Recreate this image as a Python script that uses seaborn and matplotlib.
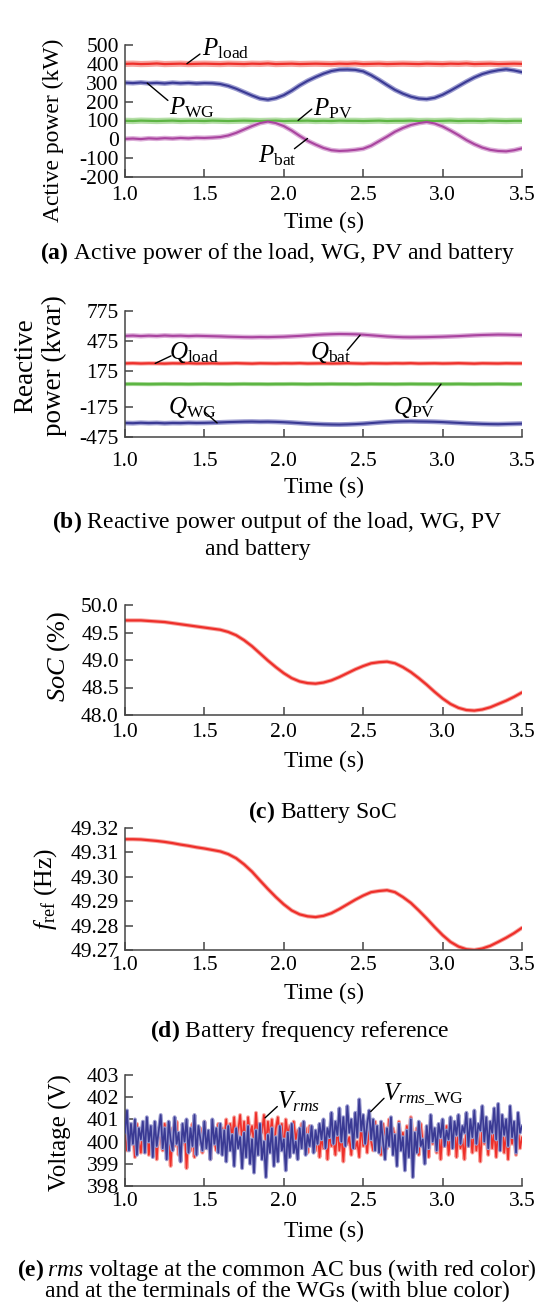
import numpy as np
import pandas as pd
import matplotlib
matplotlib.use("Agg")
import matplotlib.pyplot as plt
import seaborn as sns

# ---------------- data ----------------
t_coarse = np.round(np.linspace(1.0, 3.5, 51), 4)   # 0.05 s step
t_fine = np.round(np.linspace(1.0, 3.5, 201), 4)    # 0.0125 s step

x_ticks = [1.0, 1.5, 2.0, 2.5, 3.0, 3.5]
x_tick_labels = ["1.0", "1.5", "2.0", "2.5", "3.0", "3.5"]

# (a) active power (kW)
p_load = [400, 401, 399, 400, 402, 399, 400, 401, 399, 400,
          401, 400, 399, 401, 400, 399, 401, 400, 402, 399,
          400, 401, 399, 400, 401, 400, 399, 401, 400, 402,
          399, 400, 401, 399, 400, 401, 400, 399, 401, 400,
          399, 401, 400, 402, 399, 400, 401, 399, 400, 401,
          400]
p_wg = [300, 298, 301, 297, 299, 296, 300, 297, 299, 296,
        298, 297, 293, 283, 268, 250, 232, 216, 210, 218,
        234, 258, 286, 310, 330, 348, 362, 369, 370, 368,
        360, 340, 315, 288, 262, 242, 226, 216, 213, 220,
        236, 258, 282, 306, 328, 346, 358, 366, 371, 365,
        356]
p_pv = [98, 97, 99, 98, 97, 98, 99, 97, 98, 98,
        97, 99, 98, 97, 98, 99, 98, 97, 98, 99,
        97, 98, 98, 99, 97, 98, 97, 99, 98, 98,
        97, 98, 99, 97, 98, 98, 99, 97, 98, 97,
        98, 99, 97, 98, 98, 97, 99, 98, 97, 98,
        98]
p_bat = [2, 4, 1, 5, 3, 6, 4, 7, 5, 8,
         7, 9, 12, 20, 34, 52, 70, 86, 94, 86,
         70, 46, 18, -8, -28, -46, -58, -62, -60, -56,
         -50, -34, -10, 14, 40, 60, 76, 86, 92, 84,
         68, 46, 22, -4, -26, -44, -56, -62, -64, -58,
         -48]
a_yticks = [500, 400, 300, 200, 100, 0, -100, -200]

# (b) reactive power (kvar)
q_bat = [528, 531, 526, 530, 527, 532, 528, 530, 526, 529,
         527, 525, 523, 520, 518, 516, 515, 517, 516, 518,
         520, 524, 528, 533, 538, 542, 545, 547, 546, 544,
         540, 534, 528, 522, 518, 515, 514, 515, 516, 518,
         520, 523, 526, 530, 534, 537, 539, 541, 540, 538,
         536]
q_load = [255, 257, 254, 256, 255, 253, 256, 255, 257, 254,
          255, 256, 254, 255, 257, 255, 253, 256, 255, 254,
          256, 255, 257, 254, 255, 256, 254, 255, 257, 255,
          253, 256, 255, 254, 256, 255, 257, 254, 255, 256,
          254, 255, 257, 255, 253, 256, 255, 254, 256, 255,
          255]
q_pv = [50, 51, 50, 49, 50, 51, 50, 50, 49, 50,
        51, 50, 50, 49, 50, 51, 50, 50, 49, 50,
        50, 51, 50, 49, 50, 50, 51, 50, 50, 49,
        50, 51, 50, 50, 49, 50, 51, 50, 50, 49,
        50, 50, 51, 50, 49, 50, 50, 51, 50, 49,
        50]
q_wg = [-336, -338, -334, -337, -335, -339, -336, -337, -334, -336,
        -335, -333, -330, -327, -325, -323, -322, -324, -323, -325,
        -328, -332, -337, -342, -346, -349, -351, -352, -350, -347,
        -343, -337, -331, -326, -322, -320, -319, -321, -322, -324,
        -327, -331, -335, -339, -342, -345, -347, -348, -346, -344,
        -342]
b_yticks = [775, 475, 175, -175, -475]

# (c) battery SoC (%)
soc = [49.72, 49.72, 49.72, 49.71, 49.70, 49.69, 49.67, 49.65, 49.63, 49.61,
       49.59, 49.57, 49.55, 49.51, 49.45, 49.36, 49.25, 49.12, 48.99, 48.87,
       48.76, 48.67, 48.61, 48.58, 48.57, 48.59, 48.63, 48.69, 48.76, 48.83,
       48.89, 48.94, 48.96, 48.97, 48.94, 48.87, 48.78, 48.67, 48.55, 48.42,
       48.30, 48.20, 48.13, 48.09, 48.08, 48.10, 48.14, 48.20, 48.26, 48.33,
       48.41]
c_yticks = [50.0, 49.5, 49.0, 48.5, 48.0]

# (d) battery frequency reference (Hz)
f_ref = [49.3154, 49.3154, 49.3153, 49.3150, 49.3147, 49.3143, 49.3138, 49.3132, 49.3127, 49.3121,
         49.3116, 49.3110, 49.3104, 49.3093, 49.3076, 49.3051, 49.3021, 49.2985, 49.2950, 49.2917,
         49.2887, 49.2862, 49.2846, 49.2838, 49.2835, 49.2840, 49.2851, 49.2868, 49.2887, 49.2906,
         49.2923, 49.2937, 49.2942, 49.2945, 49.2937, 49.2917, 49.2893, 49.2862, 49.2829, 49.2794,
         49.2761, 49.2733, 49.2714, 49.2703, 49.2700, 49.2706, 49.2717, 49.2733, 49.2750, 49.2769,
         49.2791]
d_yticks = [49.32, 49.31, 49.30, 49.29, 49.28, 49.27]

# (e) rms voltages (V)
v_rms = [400.3, 399.6, 400.7, 399.9, 400.5, 399.3, 400.8, 400.0, 399.5, 400.6,
         399.8, 400.9, 399.4, 400.4, 399.9, 400.7, 399.2, 400.5, 400.1, 399.6,
         400.8, 399.7, 400.3, 398.9, 400.6, 399.8, 400.9, 399.4, 400.2, 399.9,
         400.7, 398.8, 400.4, 399.6, 400.8, 399.3, 400.5, 399.9, 400.6, 399.5,
         400.9, 399.7, 400.3, 399.2, 400.7, 400.0, 399.6, 400.8,
         399.9, 400.6, 400.1, 401.0, 399.7, 400.8, 400.2, 401.1, 399.8, 400.5,
         401.2, 400.0, 400.9, 399.6, 401.1, 400.3, 400.7, 399.9, 401.3, 400.1,
         400.8, 400.4, 401.2, 399.8, 400.9, 400.2, 401.0, 399.7, 400.6, 401.1,
         400.0, 400.8, 399.6, 401.0, 400.3, 400.7, 399.8, 400.9, 400.1, 400.5,
         399.7, 400.8, 400.0, 400.6, 399.5, 400.7, 399.9, 400.4, 399.6,
         400.5, 399.3, 400.2, 399.7, 400.6, 399.2, 400.4, 399.8, 400.1, 399.4,
         400.7, 399.6, 400.3, 399.1, 400.5, 399.9, 400.2, 399.4, 400.6, 399.7,
         400.0, 399.3, 400.8, 399.8, 400.4, 399.5, 400.7, 400.0, 399.6, 400.9,
         399.9, 400.5, 399.4, 400.8, 400.1, 399.7, 401.0, 399.8, 400.6, 400.2,
         399.5, 400.9, 400.0, 400.4, 399.6, 400.7, 399.9, 401.1, 400.2, 399.7,
         400.6, 399.4, 400.8, 400.0, 399.8, 400.5, 399.3, 400.7, 399.9, 400.3,
         399.5, 400.6, 399.2, 400.4, 399.8, 400.7, 399.4, 400.2, 399.9, 400.8,
         399.3, 400.5, 399.7, 400.1, 399.2, 400.6, 399.8, 400.3, 399.5, 400.9,
         399.6, 400.4, 399.1, 400.7, 399.9, 400.2, 399.4, 400.8, 399.7, 400.5,
         399.3, 400.6, 399.8, 401.0, 399.5, 400.3, 399.2, 400.7, 399.9, 400.4,
         399.4, 400.6, 399.7, 400.2]
v_rms_wg = [400.4, 401.4, 399.6, 400.8, 399.9, 401.0, 399.4, 400.6, 400.1, 400.9,
            399.5, 401.1, 400.0, 400.7, 399.3, 400.9, 399.8, 400.5, 401.2, 399.7,
            400.6, 399.2, 400.9, 400.1, 399.6, 401.1, 399.9, 400.4, 399.1, 400.8,
            400.0, 401.0, 399.5, 400.6, 399.8, 401.2, 399.4, 400.7, 400.1, 399.6,
            400.9, 399.7, 400.5, 399.2, 401.0, 399.9, 400.6, 399.5,
            400.8, 399.4, 400.5, 399.1, 400.7, 399.6, 400.3, 398.9, 400.6, 399.7,
            400.2, 398.8, 400.4, 399.3, 400.7, 399.0, 400.1, 398.6, 400.5, 399.4,
            400.8, 399.2, 400.0, 398.4, 400.3, 399.5, 400.6, 398.9, 400.2, 399.1,
            400.7, 399.6, 400.1, 398.7, 400.4, 399.3, 400.8, 399.5, 400.0, 399.2,
            400.6, 399.7, 400.9, 399.4, 400.3, 399.8, 400.7, 399.5, 400.5,
            399.9, 400.8, 400.1, 401.0, 399.7, 400.6, 400.2, 401.3, 399.9, 400.9,
            400.3, 401.5, 400.0, 401.1, 399.8, 401.6, 400.4, 401.0, 399.7, 401.3,
            400.2, 401.9, 400.5, 401.2, 399.9, 400.8, 401.4, 400.1, 401.0, 399.6,
            400.7, 399.5, 400.9, 400.0, 399.2, 400.6, 399.8, 401.1, 399.4, 400.3,
            398.9, 400.8, 399.6, 400.2, 398.7, 400.5, 399.3, 401.0, 398.4, 400.4,
            399.5, 400.9, 399.8, 400.1, 399.0, 400.7, 399.7, 401.2, 400.0, 400.6,
            399.6, 400.8, 400.2, 401.0, 399.8, 400.5, 400.1, 401.1, 399.7, 400.9,
            400.3, 401.2, 399.9, 400.7, 400.4, 401.3, 399.8, 401.0, 400.2, 401.4,
            399.9, 400.8, 400.5, 401.6, 400.0, 401.1, 399.7, 400.9, 400.4, 401.5,
            400.1, 401.7, 399.6, 401.2, 400.3, 401.0, 399.8, 401.6, 400.2, 400.9,
            399.5, 401.3, 400.4, 400.7]
e_yticks = [403, 402, 401, 400, 399, 398]

# ---------------- style ----------------
sns.set_theme(style="ticks")
plt.rcParams.update({
    "font.family": ["Liberation Serif", "DejaVu Serif"],
    "mathtext.fontset": "custom",
    "mathtext.rm": "Liberation Serif",
    "mathtext.it": "Liberation Serif:italic",
    "mathtext.bf": "Liberation Serif:bold",
    "axes.unicode_minus": False,
    "axes.edgecolor": "#454545",
    "axes.linewidth": 1.1,
    "text.color": "black",
    "axes.labelcolor": "black",
    "xtick.labelcolor": "black",
    "ytick.labelcolor": "black",
})

RED = "#ee2f2a"
RED_HALO = "#f7a5a0"
BLUE = "#3a3a94"
BLUE_HALO = "#9c9cd0"
GREEN = "#5db543"
GREEN_HALO = "#b4dea6"
MAG = "#a9449f"
MAG_HALO = "#dcaed8"

W, H = 540, 1307
fig = plt.figure(figsize=(W / 100, H / 100), dpi=100)
L, R = 125, 522


def px_axes(top, bottom):
    return fig.add_axes([L / W, 1 - bottom / H, (R - L) / W, (bottom - top) / H])


def draw(ax, x, y, color, lw, halo=None, halo_lw=None, z=2):
    df = pd.DataFrame({"t": x, "v": y})
    if halo is not None:
        sns.lineplot(data=df, x="t", y="v", ax=ax, color=halo, linewidth=halo_lw,
                     estimator=None, sort=False, zorder=z - 0.5)
    sns.lineplot(data=df, x="t", y="v", ax=ax, color=color, linewidth=lw,
                 estimator=None, sort=False, zorder=z)


def style(ax, top, bottom, ylim, yticks, ylabels, xpad, ylabel, ysize, ylab_px, xlab_py):
    ax.set_xlim(1.0, 3.5)
    ax.set_ylim(*ylim)
    ax.set_xticks(x_ticks)
    ax.set_xticklabels(x_tick_labels)
    ax.set_yticks(yticks)
    ax.set_yticklabels(ylabels)
    sns.despine(ax=ax)
    ax.tick_params(axis="both", direction="in", length=6, width=1.1,
                   color="#454545", labelsize=15.5)
    ax.tick_params(axis="x", pad=xpad)
    ax.tick_params(axis="y", pad=4.5)
    hgt = bottom - top
    ax.set_xlabel("Time (s)", fontsize=17)
    ax.xaxis.set_label_coords(0.5, (bottom - xlab_py) / hgt)
    ax.xaxis.label.set_va("center")
    ax.set_ylabel(ylabel, fontsize=ysize, linespacing=1.15)
    ax.yaxis.set_label_coords((ylab_px[0] - L) / (R - L), (bottom - ylab_px[1]) / hgt)
    ax.yaxis.label.set_va("center")


def leader(ax, p0, p1):
    ax.annotate("", xy=p1, xytext=p0,
                arrowprops=dict(arrowstyle="-", color="black", lw=1.0,
                                shrinkA=0, shrinkB=0))


def label(ax, xy, s, size=18):
    ax.text(xy[0], xy[1], s, fontsize=size, ha="left", va="center", zorder=5)


def caption(xp, yp, s, ha="center", size=17):
    fig.text(xp / W, 1 - yp / H, s, fontsize=size, ha=ha, va="center")


# ---- (a) ----
ta, ba = 45, 177
axa = px_axes(ta, ba)
draw(axa, t_coarse, p_load, RED, 1.6, RED_HALO, 4.5)
draw(axa, t_coarse, p_wg, BLUE, 1.5, BLUE_HALO, 3.5)
draw(axa, t_coarse, p_pv, GREEN, 1.6, GREEN_HALO, 4.5)
draw(axa, t_coarse, p_bat, MAG, 1.5, MAG_HALO, 3.5)
style(axa, ta, ba, (-200, 500), a_yticks, [str(v) for v in a_yticks], 6.5,
      "Active power (kW)", 17, (53, 130), 222)
leader(axa, (1.39, 401), (1.472, 452))
label(axa, (1.482, 482), r"$P_{\mathrm{load}}$")
leader(axa, (1.14, 298), (1.27, 206))
label(axa, (1.28, 168), r"$P_{\mathrm{WG}}$")
leader(axa, (2.09, 100), (2.176, 160))
label(axa, (2.186, 160), r"$P_{\mathrm{PV}}$")
leader(axa, (2.149, 4), (2.067, -50))
label(axa, (1.84, -85), r"$P_{\mathrm{bat}}$")
caption(277, 253, r"$\mathbf{(a)}$ Active power of the load, WG, PV and battery")

# ---- (b) ----
tb, bb = 311, 437
axb = px_axes(tb, bb)
draw(axb, t_coarse, q_bat, MAG, 1.5, MAG_HALO, 3.5)
draw(axb, t_coarse, q_load, RED, 1.6, RED_HALO, 3.0)
draw(axb, t_coarse, q_pv, GREEN, 1.8, GREEN_HALO, 3.0)
draw(axb, t_coarse, q_wg, BLUE, 1.5, BLUE_HALO, 3.5)
style(axb, tb, bb, (-475, 775), b_yticks, [str(v) for v in b_yticks], 10.5,
      "Reactive\npower (kvar)", 19.5, (40, 366), 487)
leader(axb, (1.19, 255), (1.29, 330))
label(axb, (1.28, 368), r"$Q_{\mathrm{load}}$")
leader(axb, (2.40, 385), (2.48, 535))
label(axb, (2.165, 368), r"$Q_{\mathrm{bat}}$")
leader(axb, (1.50, -225), (1.58, -335))
label(axb, (1.27, -187), r"$Q_{\mathrm{WG}}$")
leader(axb, (2.90, -135), (2.99, 50))
label(axb, (2.69, -187), r"$Q_{\mathrm{PV}}$")
caption(277, 522, r"$\mathbf{(b)}$ Reactive power output of the load, WG, PV")
caption(258, 550, "and battery")

# ---- (c) ----
tc, bc = 605, 715
axc = px_axes(tc, bc)
draw(axc, t_coarse, soc, RED, 1.6, RED_HALO, 3.0)
style(axc, tc, bc, (48.0, 50.0), c_yticks, [f"{v:.1f}" for v in c_yticks], 5.5,
      r"$SoC$ (%)", 19, (59, 657), 761)
caption(322, 812, r"$\mathbf{(c)}$ Battery SoC")

# ---- (d) ----
td, bd = 828, 950
axd = px_axes(td, bd)
draw(axd, t_coarse, f_ref, RED, 1.6, RED_HALO, 3.0)
style(axd, td, bd, (49.27, 49.32), d_yticks, [f"{v:.2f}" for v in d_yticks], 4.5,
      r"$f_{\mathrm{ref}}$ (Hz)", 18.5, (46, 889), 993)
caption(300, 1031, r"$\mathbf{(d)}$ Battery frequency reference")

# ---- (e) ----
te, be = 1075, 1186
axe = px_axes(te, be)
draw(axe, t_fine, v_rms, RED, 1.25, RED_HALO, 2.8)
draw(axe, t_fine, v_rms_wg, BLUE, 1.25, BLUE_HALO, 2.8, z=3)
style(axe, te, be, (398, 403), e_yticks, [str(v) for v in e_yticks], 4.0,
      "Voltage (V)", 18, (60, 1133), 1231)
leader(axe, (1.882, 401.07), (1.959, 401.58))
label(axe, (1.955, 401.8), r"$V_{rms}$")
leader(axe, (2.547, 401.35), (2.631, 401.95))
label(axe, (2.627, 402.1), r"$V_{rms\_\mathrm{WG}}$")
caption(17, 1270, r"$\mathbf{(e)}$", ha="left")
caption(47, 1270, r"$rms$ voltage at the common AC bus (with red color)", ha="left")
caption(45, 1291, "and at the terminals of the WGs (with blue color)", ha="left")

fig.savefig("out.png", dpi=100)
